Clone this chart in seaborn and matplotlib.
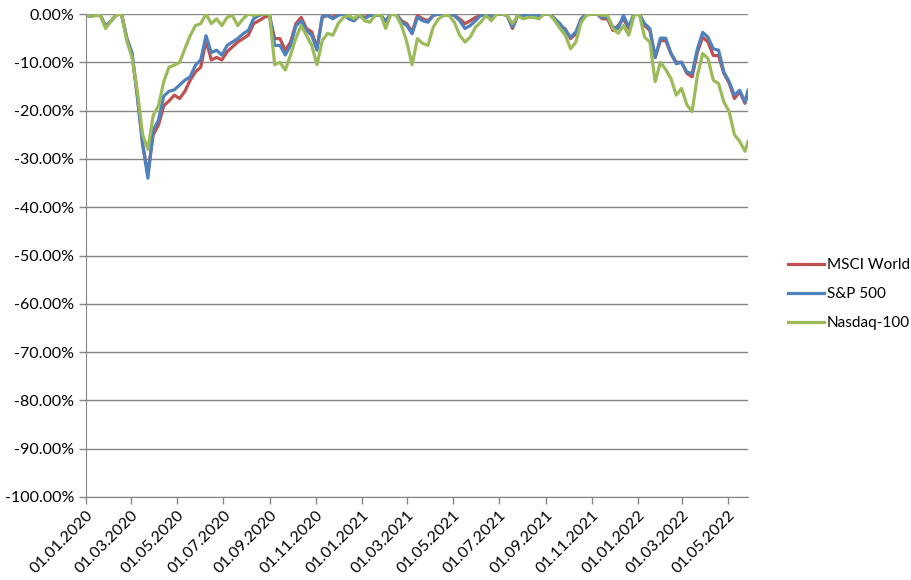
import pandas as pd
import numpy as np
import seaborn as sns
import matplotlib.pyplot as plt
import matplotlib.dates as mdates
from matplotlib.ticker import FuncFormatter

# weekly (Monday) readings of the drawdown from the previous high, in %
dates = pd.date_range("2019-12-30", "2022-05-23", freq="W-MON").append(pd.DatetimeIndex(["2022-05-27"]))

msci = [0, -0.5, -0.3, -0.3, -2.5, -1.5, -0.2, 0, -5, -8.5, -17, -27, -33, -25, -23, -19, -18, -16.8, -17.5, -16,
        -13.7, -12, -11, -5.5, -9.5, -9, -9.5, -7.8, -6.8, -5.8, -5.1, -4.4, -2, -1.4, -0.7, -0.3, -5.1, -5.1, -7.5, -5.8,
        -2, -0.7, -3, -3.7, -7, -0.7, -0.3, -0.7, 0, 0, -0.7, -1.4, -0.3, -0.7, -0.3, -0.3, -0.2, -1.5, 0, 0,
        -1.4, -2, -3.7, -0.3, -1, -1.4, -0.3, 0, 0, 0, -0.3, -1, -2, -1.4, -0.7, -0.3, 0, -1, 0, 0,
        -0.3, -3, -0.3, -0.3, 0, -0.3, -0.3, 0, 0, -1, -2.4, -3.1, -5.1, -4.1, -1, 0, 0, 0, -1, -1,
        -3.4, -2.4, -1, -3, 0, 0, -2.4, -3.4, -9, -5.5, -5.5, -8.2, -10, -10, -12.3, -13, -7.9, -4.8, -5.8, -8.6,
        -8.6, -12.3, -14.3, -17.5, -16.1, -18.5, -16.4]
sp500 = [0, -0.5, -0.3, -0.3, -2.5, -1.5, -0.2, 0, -5, -8, -17, -27, -34, -24, -22, -17, -16, -15.7, -14.7, -13.7,
         -13, -10.6, -9.5, -4.5, -8, -7.5, -8.5, -6.5, -5.8, -5.1, -4.1, -3.4, -1, -0.3, 0, 0, -6.5, -6.5, -8.5, -6.5,
         -2.5, -1.4, -3.4, -4.4, -7.5, -0.5, -0.3, -1, -0.3, 0, -1, -1.4, -0.3, -1, -0.3, -0.3, -0.2, -1.5, 0, 0,
         -1.7, -2.4, -4.1, -0.7, -1.4, -1.7, -0.3, 0, 0, 0, -0.3, -1.4, -3, -2.4, -1.4, -0.3, 0, -0.7, 0, 0,
         -0.3, -2.7, -0.2, -0.3, 0, -0.3, -0.3, 0, 0, -1, -2, -3.4, -4.8, -3.7, -1, 0, 0, 0, -0.7, -0.7,
         -2.7, -3, -0.3, -2.7, 0, 0, -2, -3, -9, -5, -5, -8.2, -10.3, -10, -12, -12.3, -7.2, -3.8, -4.8, -7.2,
         -7.5, -12, -14, -16.8, -15.8, -18.2, -15.8]
nasdaq = [0, -0.5, -0.3, -0.3, -3, -1.5, -0.2, 0, -5.5, -9, -16, -25, -28, -21, -19, -14, -11, -10.6, -10, -7.2,
          -4.5, -2.4, -2, 0, -2, -1, -2.4, -0.7, -0.3, -2.4, -1, 0, -0.3, 0, 0, 0, -10.5, -10, -11.6, -8.5,
          -5, -2.4, -4.4, -6.5, -10.5, -5.5, -4, -4.4, -2, -0.7, -0.3, -1, 0, -1.4, -1.7, -0.3, 0, -3, 0, -0.3,
          -2.4, -5.8, -10.5, -5.1, -6.1, -6.5, -2.7, -1, -0.3, -0.3, -1.7, -4.4, -5.8, -4.8, -2.7, -1.7, -0.3, -1.4, 0, 0,
          -0.3, -2, -0.3, -1, -0.7, -0.7, -1, 0, 0, -1.4, -3, -4.4, -7.2, -5.8, -1.7, -0.3, 0, 0, -0.3, -0.3,
          -3, -4, -2.4, -4.4, -0.3, 0, -4.8, -5.8, -14, -10, -11.5, -13.4, -16.8, -15.4, -18.8, -20.2, -12.7, -8.2, -9.2, -13.7,
          -14.4, -18.2, -20.2, -25, -26.4, -28.4, -26.4]

names = ["MSCI World", "S&P 500", "Nasdaq-100"]
colors = ["#C0504D", "#4F81BD", "#9BBB59"]

df = pd.DataFrame({"date": dates, "MSCI World": msci, "S&P 500": sp500, "Nasdaq-100": nasdaq})
long = df.melt(id_vars="date", var_name="index", value_name="dd")
long["dd"] = long["dd"] / 100

plt.rcParams["font.family"] = ["Lato", "DejaVu Sans"]
plt.rcParams["axes.unicode_minus"] = False
fig = plt.figure(figsize=(9.11, 5.80), dpi=100)
ax = fig.add_axes([86 / 911, 1 - 497 / 580, (748 - 86) / 911, (497 - 14) / 580])

sns.lineplot(data=long, x="date", y="dd", hue="index", hue_order=names,
             palette=dict(zip(names, colors)), linewidth=2.3, ax=ax)

ax.set_xlim(pd.Timestamp("2020-01-01"), pd.Timestamp("2022-05-27"))
ax.set_ylim(-1, 0)
ax.set_yticks(np.arange(-1, 0.01, 0.1))
ax.yaxis.set_major_formatter(FuncFormatter(lambda v, p: "%.2f%%" % (round(v * 100, 2) + 0.0)))
ax.set_xticks(pd.date_range("2020-01-01", "2022-05-01", freq="2MS"))
ax.xaxis.set_major_formatter(mdates.DateFormatter("%d.%m.%Y"))
plt.setp(ax.get_xticklabels(), rotation=45, ha="right", rotation_mode="anchor")
ax.tick_params(axis="both", labelsize=11.5, color="#868686", length=5, width=1)
ax.tick_params(axis="x", pad=3)

ax.grid(axis="y", color="#868686", linewidth=1)
ax.set_axisbelow(True)
for s in ["top", "right"]:
    ax.spines[s].set_visible(False)
for s in ["left", "bottom"]:
    ax.spines[s].set_color("#868686")
ax.set_xlabel("")
ax.set_ylabel("")

ax.legend(frameon=False, loc="center left", bbox_to_anchor=(1.045, 0.42),
          fontsize=11, handlelength=2.3, labelspacing=1.0, handletextpad=0.2,
          borderpad=0.2)

fig.savefig("out.png", dpi=100)
